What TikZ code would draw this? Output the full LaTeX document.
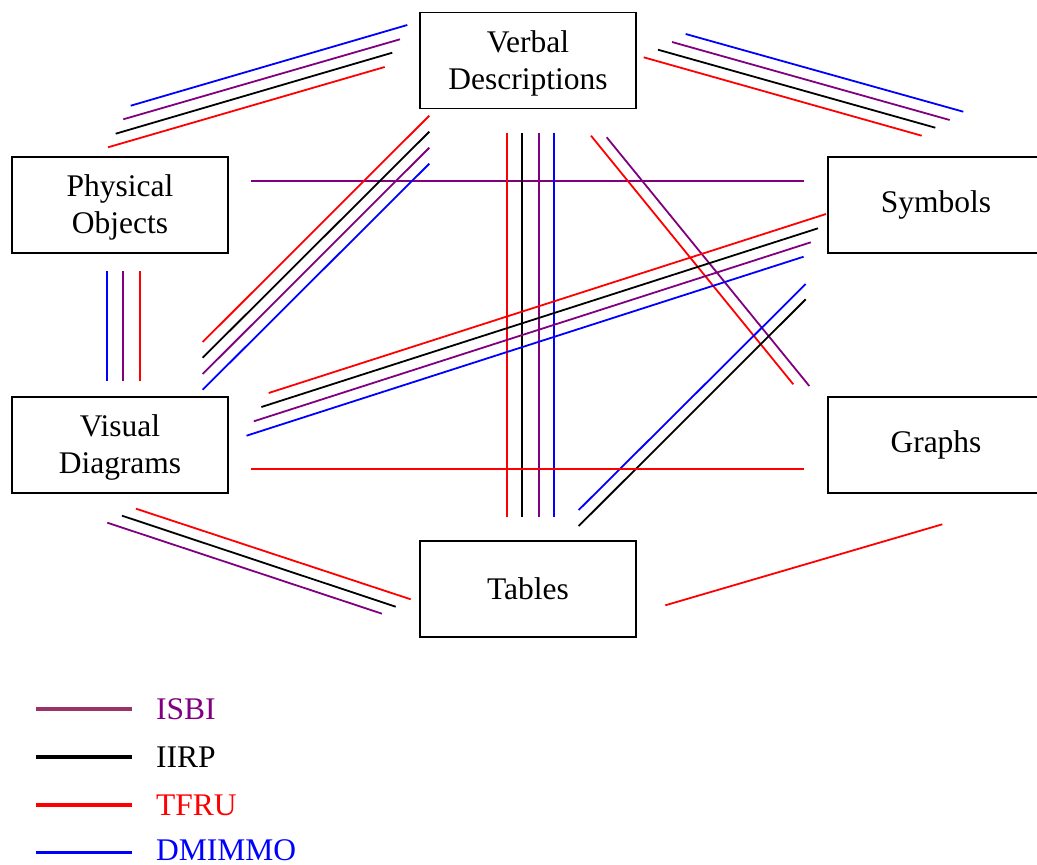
\documentclass[tikz,border=0pt]{standalone}
\usepackage{fontspec}
\setmainfont{Liberation Serif}
\usetikzlibrary{calc}

\definecolor{isbicol}{RGB}{128,0,128}
\definecolor{isbikeycol}{RGB}{153,51,102}
\definecolor{iirpcol}{RGB}{0,0,0}
\definecolor{tfrucol}{RGB}{255,0,0}
\definecolor{dmimmocol}{RGB}{0,0,255}

% one coloured band between two boxes: offsets are taken from each box centre
\newcommand\band[5]{\draw[#1] ($(#2)+(#3)$) -- ($(#4)+(#5)$);}

\begin{document}
\begin{tikzpicture}[x=1pt,y=-1pt,
  box/.style={draw,line width=1.8pt,minimum width=216pt,minimum height=96pt,
    inner sep=0pt,align=center,font=\fontsize{31.5}{37.5}\selectfont},
  twoline/.style={box,text depth=1pt},
  rel/.style={line width=1.8pt},
  isbi/.style={rel,isbicol},
  iirp/.style={rel,iirpcol},
  tfru/.style={rel,tfrucol},
  dmimmo/.style={rel,dmimmocol},
  key/.style={line width=3.5pt},
  keytext/.style={anchor=base west,inner sep=0pt,font=\fontsize{31.5}{37.5}\selectfont}]
\clip (0,0) rectangle (1037,865);
\fill[white] (0,0) rectangle (1037,865);

% the six representation boxes
\node[twoline] (verbal)   at (528,60.5)  {Verbal\\Descriptions};
\node[twoline] (physical) at (120,204.7) {Physical\\Objects};
\node[box]     (symbols)  at (936,204.7) {Symbols};
\node[twoline] (visual)   at (120,444.7) {Visual\\Diagrams};
\node[box]     (graphs)   at (936,444.7) {Graphs};
\node[box]     (tables)   at (528,589)   {Tables};

% verbal -- physical
\band{dmimmo}{verbal}{-120.7,-35.5}{physical}{10.7,-99}
\band{isbi}{verbal}{-128,-21.2}{physical}{3.3,-85.4}
\band{iirp}{verbal}{-135.7,-7.8}{physical}{-4.3,-71}
\band{tfru}{verbal}{-143.3,6.5}{physical}{-12,-57.4}

% verbal -- symbols
\band{dmimmo}{verbal}{157.7,-26.5}{symbols}{27.3,-93}
\band{isbi}{verbal}{144,-18.5}{symbols}{13.7,-84.7}
\band{iirp}{verbal}{130,-10.8}{symbols}{-0.7,-77}
\band{tfru}{verbal}{115.7,-3.2}{symbols}{-14.3,-69}

% physical -- visual
\band{dmimmo}{physical}{-13.3,66.3}{visual}{-13.3,-63.4}
\band{isbi}{physical}{3.3,66.3}{visual}{3.3,-63.4}
\band{tfru}{physical}{20,66.3}{visual}{20,-63.4}

% physical -- symbols
\band{isbi}{physical}{131.3,-24}{symbols}{-131.7,-24}

% verbal -- visual
\band{tfru}{verbal}{-98.7,55.2}{visual}{82.7,-102.7}
\band{iirp}{verbal}{-98.7,71.2}{visual}{82.7,-87}
\band{isbi}{verbal}{-98.7,87.2}{visual}{82.7,-70.7}
\band{dmimmo}{verbal}{-98.7,103.2}{visual}{82.7,-55}

% verbal -- tables
\band{tfru}{verbal}{-21.3,72.2}{tables}{-21.3,-71.7}
\band{iirp}{verbal}{-5.7,72.2}{tables}{-5.7,-71.7}
\band{isbi}{verbal}{10.7,72.2}{tables}{10.7,-71.7}
\band{dmimmo}{verbal}{26.3,72.2}{tables}{26.3,-71.7}

% verbal -- graphs
\band{tfru}{verbal}{63,75.2}{graphs}{-142.7,-60.4}
\band{isbi}{verbal}{78.7,76.8}{graphs}{-126.7,-58.7}

% visual -- symbols
\band{tfru}{visual}{148.7,-51.7}{symbols}{-110,9.3}
\band{iirp}{visual}{141.4,-37.7}{symbols}{-118,23.6}
\band{isbi}{visual}{133.8,-23.4}{symbols}{-125.2,37.6}
\band{dmimmo}{visual}{126.5,-9}{symbols}{-132.4,52}

% tables -- symbols
\band{dmimmo}{tables}{50.7,-79}{symbols}{-130.3,79.3}
\band{iirp}{tables}{50.7,-63}{symbols}{-130.3,94.6}

% visual -- graphs
\band{tfru}{visual}{131.3,24.3}{graphs}{-131.7,24.3}

% visual -- tables
\band{tfru}{visual}{16,64}{tables}{-117.3,10.3}
\band{iirp}{visual}{2,71}{tables}{-132.3,17.7}
\band{isbi}{visual}{-12.7,78}{tables}{-146,24.7}

% tables -- graphs
\band{tfru}{tables}{137.3,16.3}{graphs}{6.3,79.6}

% legend
\node[keytext,text=isbicol]   (kisbi)   at (156,719.3) {ISBI};
\node[keytext,text=iirpcol]   (kiirp)   at (156,767.3) {IIRP};
\node[keytext,text=tfrucol]   (ktfru)   at (156,815.2) {TFRU};
\node[keytext,text=dmimmocol] (kdmimmo) at (156,860.5) {DMIMMO};
\coordinate (l1) at (36,709);
\coordinate (l2) at (36,757);
\coordinate (l3) at (36,805);
\coordinate (l4) at (36,852.7);
\draw[key,isbikeycol] (l1) -- ++(95.7,0);
\draw[key,iirpcol]    (l2) -- ++(95.7,0);
\draw[key,tfrucol]    (l3) -- ++(95.7,0);
\draw[key,dmimmocol]  (l4) -- ++(95.7,0);
\end{tikzpicture}
\end{document}
